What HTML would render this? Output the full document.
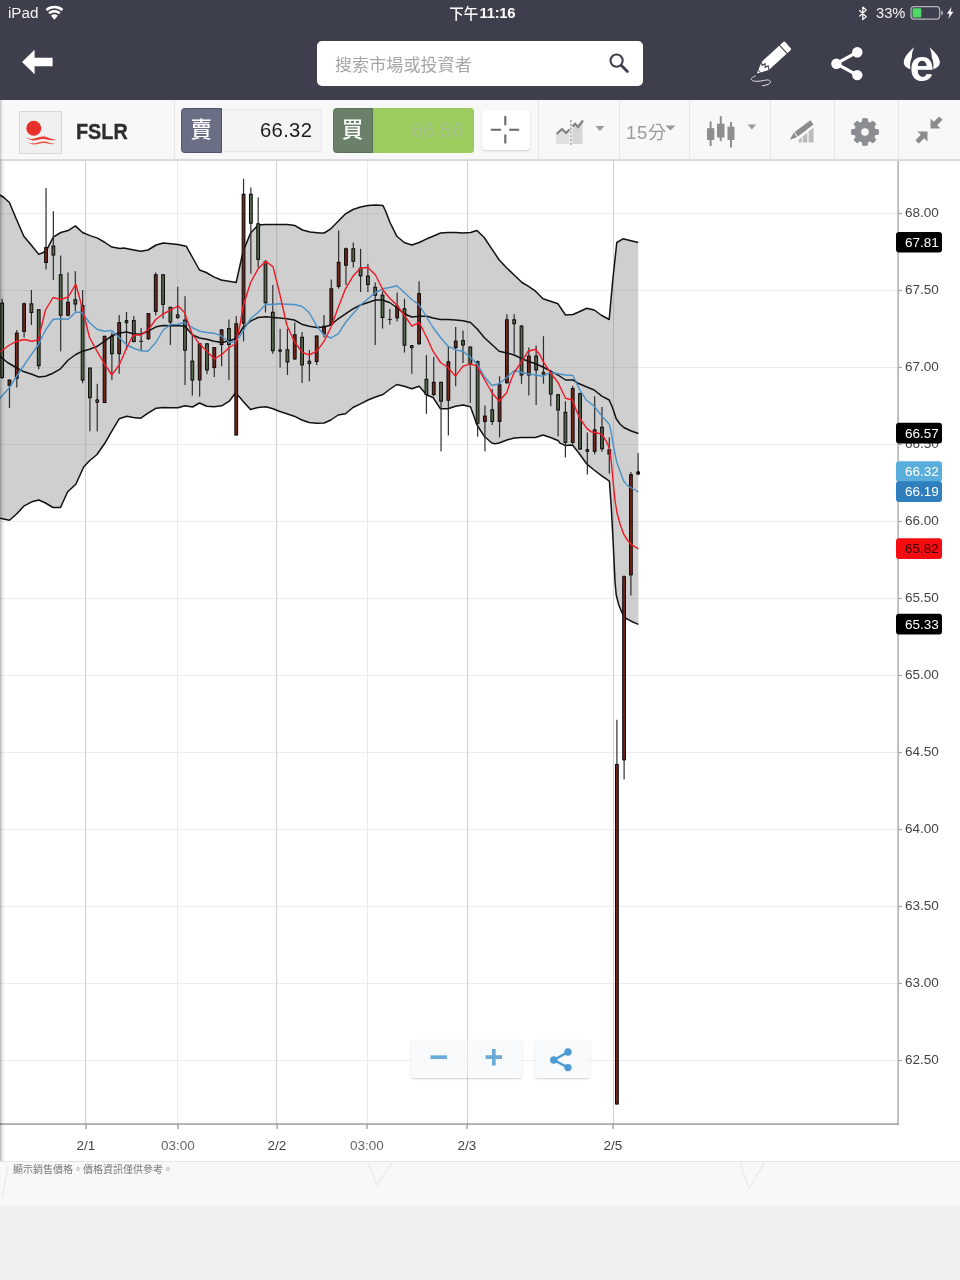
<!DOCTYPE html><html lang="zh-Hant"><head><meta charset="utf-8"><title>FSLR</title><style>
*{box-sizing:border-box;margin:0;padding:0}
html,body{width:960px;height:1280px;overflow:hidden;background:#f0f0f0;font-family:"Liberation Sans","Noto Sans CJK TC",sans-serif;}
#root{position:relative;width:960px;height:1280px;overflow:hidden;background:#f0f0f0}
.abs{position:absolute}
#hdr{left:0;top:0;width:960px;height:100px;background:#3d3f4c}
.st{color:#fff;font-size:16px;line-height:20px;top:3px;white-space:nowrap}
#search{left:317px;top:41px;width:326px;height:44.5px;background:#fff;border-radius:5px}
#search span{position:absolute;left:18px;top:11.7px;font-size:17px;line-height:26px;color:#a6a6a6;white-space:nowrap;letter-spacing:0.1px}
#tb{left:0;top:100px;width:960px;height:60px;background:#f8f8f8;border-bottom:1px solid #dcdcdc}
.dv{position:absolute;top:0;width:1px;height:60px;background:#e6e6e6}
#logo{left:19px;top:110.5px;width:43px;height:43.5px;background:#f0f0f0;border:1px solid #d9d9d9}
#sym{left:76px;top:118.2px;-webkit-text-stroke:0.35px #2e2e2e;font-size:22px;line-height:28px;font-weight:bold;color:#2e2e2e;font-family:"Liberation Sans",sans-serif;transform:scaleX(0.9);transform-origin:0 0}
.lab{color:#fff;font-size:21.5px;line-height:43px;text-align:center;font-weight:500}
.val{height:44px;line-height:44px;font-size:20.3px;text-align:right;letter-spacing:0.3px;white-space:nowrap}
#chart{left:0;top:160px;width:960px;height:1001px;background:#fff}
#foot{left:0;top:1161px;width:960px;height:44px;background:#f8f8f8;border-top:1px solid #e6e6e6}
#foot span{position:absolute;left:13px;top:1px;font-size:10px;line-height:14px;color:#7a7a7a;white-space:nowrap}
.zb{position:absolute;height:37.5px;background:rgba(248,249,250,0.88);border-radius:3px;box-shadow:0 1px 2px rgba(0,0,0,0.18)}
</style></head><body><div id="root"><div id="hdr" class="abs"><svg class="abs" style="left:0;top:0" width="960" height="28" viewBox="0 0 960 28" font-family="Liberation Sans, Noto Sans CJK TC, sans-serif" fill="#fff"><text x="8" y="18.4" font-size="15.2" fill="#f2f2f6">iPad</text><g fill="none" stroke="#fff" stroke-width="2.5"><path d="M46.36 10.02 A12.5 12.5 0 0 1 62.44 10.02"/><path d="M49.06 13.24 A8.3 8.3 0 0 1 59.74 13.24"/></g><path d="M54.4 19.7 L51.0 15.7 A5.2 5.2 0 0 1 57.8 15.7 Z"/><text x="449.2" y="19" font-size="14.5" font-weight="500">下午</text><text x="479.6" y="18.1" font-size="14.8" font-weight="bold" letter-spacing="-0.3">11:16</text><path d="M859.3 10.2 L866.2 16.6 L862.8 19.6 L862.8 7 L866.2 10 L859.3 16.4" fill="none" stroke="#fff" stroke-width="1.25" stroke-linejoin="round"/><text x="876" y="17.6" font-size="14.7" fill="#f4f4f8">33%</text><rect x="911" y="6.6" width="28.6" height="12.6" rx="3" fill="none" stroke="#fff" stroke-opacity="0.62" stroke-width="1.2"/><rect x="912.6" y="8.2" width="8.7" height="9.4" rx="1" fill="#4cd964"/><path d="M941.2 10.4 a2.6 2.6 0 0 1 0 5z" fill-opacity="0.6"/><path d="M951.6 6.9 L946.9 13.7 L949.6 13.7 L948.3 18.8 L953.5 11.8 L950.6 11.8 Z"/></svg><svg class="abs" style="left:20px;top:48px" width="34" height="28" viewBox="0 0 34 28"><path d="M2 14 L14.6 1.7 L14.6 9.8 L32.6 9.8 L32.6 18.2 L14.6 18.2 L14.6 26.3 Z" fill="#fff"/></svg><div id="search" class="abs"><span>搜索市場或投資者</span><svg class="abs" style="left:290.5px;top:11px" width="22" height="22" viewBox="0 0 22 22"><circle cx="8.6" cy="8.6" r="6.1" fill="none" stroke="#3d3f4c" stroke-width="2.1"/><path d="M13.2 13.2 L19.4 19.4" stroke="#3d3f4c" stroke-width="2.8" stroke-linecap="round"/></svg></div><svg class="abs" style="left:0;top:0" width="960" height="100" viewBox="0 0 960 100"><g transform="translate(757 73.5) rotate(-42.5)" fill="#fff"><path d="M0 0 L2.8 -1.4 L2.8 1.4 Z"/><path d="M3.6 -1.8 L11 -5.5 L35.1 -5.5 L35.1 5.5 L11 5.5 L3.6 1.8 Z"/><path d="M36.2 -5.5 L40.6 -5.5 Q42 -5.5 42 -4.1 L42 4.1 Q42 5.5 40.6 5.5 L36.2 5.5 Z"/><path d="M10.8 -5.6 L9.2 -2.6 L12.6 -1.8 L10.2 1 L13.4 1.9 L11.2 5.6" fill="none" stroke="#3d3f4c" stroke-width="1.1"/></g><path d="M755.4 76 C752.5 77 750.8 78.6 751.4 79.6 C752.2 81.3 756 81.6 760.75 81 C764 80.5 768.5 79 770.2 81 C771.5 83 768 85.3 762.6 85.7" fill="none" stroke="#e4e4e8" stroke-width="1" stroke-linecap="round"/><path d="M857.3 52.2 L836.2 63.7 L857.3 75.1" fill="none" stroke="#fff" stroke-width="3.2" stroke-linejoin="round"/><circle cx="857.3" cy="52.2" r="5.2" fill="#fff"/><circle cx="836.4" cy="63.7" r="5.2" fill="#fff"/><circle cx="857.3" cy="75.1" r="5.2" fill="#fff"/><path d="M914.1 47.2 C910 51 904.5 56 903.8 61.5 C903.4 65.5 906.5 68 910.3 69.2 C909.8 65 910.2 60.5 911.8 57.5 C911.6 54 912.8 50.5 914.1 47.2 Z" fill="#fff"/><path d="M914.1 47.2 C910 51 904.5 56 903.8 61.5 C903.4 65.5 906.5 68 910.3 69.2 C909.8 65 910.2 60.5 911.8 57.5 C911.6 54 912.8 50.5 914.1 47.2 Z" fill="#fff" transform="translate(1843.6 0) scale(-1 1)"/><text x="921.9" y="80.8" text-anchor="middle" font-family="Liberation Sans, sans-serif" font-weight="bold" font-size="43.5" fill="#fff">e</text></svg></div><div id="tb" class="abs"><div class="dv" style="left:174px"></div><div class="dv" style="left:538px"></div><div class="dv" style="left:619px"></div><div class="dv" style="left:689px"></div><div class="dv" style="left:770px"></div><div class="dv" style="left:834px"></div><div class="dv" style="left:898px"></div></div><div id="logo" class="abs"><svg width="41" height="41" viewBox="0 0 41 41"><circle cx="13.8" cy="16.3" r="7.5" fill="#e8302a"/><path d="M5.4 24.6 C11 29.6 17 25 22.5 24.6 C28 24.2 31 28 36.4 27.4 C31 29.6 27.5 26.8 22.8 27 C17.5 27.2 11.5 31.2 5.4 24.6 Z" fill="#e63c34"/><path d="M6.8 29.6 C12.5 33.6 18 29.6 23.2 29.4 C28.2 29.2 31 32 36 31.6 C31 33.2 27.8 31 23.3 31.1 C18.2 31.3 12.8 34.8 6.8 29.6 Z" fill="#e85048"/></svg></div><div id="sym" class="abs">FSLR</div><div class="abs" style="left:221px;top:108.5px;width:101px;height:43px;background:#f4f4f4;border:1px solid #e7e7e7;border-left:none;border-radius:0 3px 3px 0"></div><div class="abs lab" style="left:181px;top:108px;width:40.5px;height:44.5px;background:#6b6f86;border:1px solid #50546a;border-radius:3.5px 0 0 3.5px">賣</div><div class="abs val" style="left:240px;top:108px;width:72.3px;color:#1e1e1e">66.32</div><div class="abs" style="left:372px;top:108px;width:101.5px;height:44.5px;background:#9ccb5e;border-radius:0 3.5px 3.5px 0"></div><div class="abs lab" style="left:332.5px;top:108px;width:40px;height:44.5px;background:#6b8068;border:1px solid #5b7058;border-radius:3.5px 0 0 3.5px">買</div><div class="abs val" style="left:391px;top:108px;width:72.5px;color:#a6c28d">66.56</div><div class="abs" style="left:482px;top:110px;width:48px;height:40px;background:#fff;border-radius:4px;box-shadow:0 1px 2px rgba(0,0,0,0.18)"><svg width="48" height="40" viewBox="0 0 48 40"><path d="M23.3 6 V15.3 M23.3 24.4 V33.6 M8.8 19.8 H19 M27.2 19.8 H37.2" stroke="#686868" stroke-width="2.1" fill="none"/></svg></div><svg class="abs" style="left:552px;top:116px" width="60" height="32" viewBox="0 0 60 32"><path d="M4 28 L4 19 L10 13.5 L14 17.5 L17.4 14 L17.4 28 Z" fill="#e0e0e0"/><path d="M20.4 28 L20.4 12 L23 9 L26 12 L30.5 6 L30.5 28 Z" fill="#d6d6d6"/><path d="M4.5 18 L10 13 L14 17 L17.5 13.5" fill="none" stroke="#808080" stroke-width="2.2"/><path d="M20.5 10.5 L23.2 7.8 L26 11 L31 4.5" fill="none" stroke="#808080" stroke-width="2.2"/><path d="M18.9 4 V29" stroke="#8a8a8a" stroke-width="1.2" stroke-dasharray="2.2 1.6"/><path d="M43.4 10 L52.4 10 L47.9 15 Z" fill="#9a9a9a"/></svg><div class="abs" style="left:626px;top:118.5px;font-size:18.5px;line-height:28px;color:#9a9a9a;white-space:nowrap;letter-spacing:0.6px">15分</div><svg class="abs" style="left:665px;top:123.5px" width="12" height="8" viewBox="0 0 12 8"><path d="M0.5 1.5 L10.5 1.5 L5.5 6.5 Z" fill="#9a9a9a"/></svg><svg class="abs" style="left:704px;top:113px" width="56" height="38" viewBox="0 0 56 38"><g fill="#8e8e8e"><rect x="3" y="15.2" width="7.3" height="11.8"/><rect x="5.6" y="8.5" width="2" height="24.5"/><rect x="13" y="10.7" width="7.5" height="13.8"/><rect x="15.75" y="3.2" width="2" height="25"/><rect x="23.5" y="13.7" width="7" height="13.3"/><rect x="26" y="9" width="2" height="25.5"/><path d="M43.6 11.4 L52.2 11.4 L47.9 16.4 Z" fill="#9a9a9a"/></g></svg><svg class="abs" style="left:780px;top:110px" width="44" height="40" viewBox="780 110 44 40"><g fill="#bcbcbc"><path d="M798.7 139.4 L801.8 137.2 L801.8 142.4 L798.7 142.4 Z"/><path d="M802.8 136.3 L807.3 132.8 L807.3 142.4 L802.8 142.4 Z"/><path d="M808.6 131.6 L813.6 127.4 L813.6 142.4 L808.6 142.4 Z"/></g><g fill="#8c8c8c"><path d="M794.6 131.9 L810.4 120.3 L813.6 124.6 L797.9 136.6 Z"/><path d="M793.8 132.6 L797 137.2 L789.8 139.8 Z"/></g></svg><svg class="abs" style="left:849px;top:115.6px" width="32" height="32" viewBox="0 0 32 32"><path d="M13.36 6.04 L13.78 2.68 L18.22 2.68 L18.64 6.04 L21.17 7.09 L23.85 5.02 L26.98 8.15 L24.91 10.83 L25.96 13.36 L29.32 13.78 L29.32 18.22 L25.96 18.64 L24.91 21.17 L26.98 23.85 L23.85 26.98 L21.17 24.91 L18.64 25.96 L18.22 29.32 L13.78 29.32 L13.36 25.96 L10.83 24.91 L8.15 26.98 L5.02 23.85 L7.09 21.17 L6.04 18.64 L2.68 18.22 L2.68 13.78 L6.04 13.36 L7.09 10.83 L5.02 8.15 L8.15 5.02 L10.83 7.09 Z M16 11.7 a4.3 4.3 0 1 0 0.001 0 Z" fill="#8b8d91" fill-rule="evenodd" stroke="#8b8d91" stroke-width="1" stroke-linejoin="round"/></svg><svg class="abs" style="left:912.6px;top:114.2px" width="32" height="32" viewBox="0 0 32 32"><g fill="#8c8c8c"><path d="M17.5 14.5 L17.5 4.5 L20.8 7.8 L26.2 2.4 L29.6 5.8 L24.2 11.2 L27.5 14.5 Z"/><path d="M14.5 17.5 L14.5 27.5 L11.2 24.2 L5.8 29.6 L2.4 26.2 L7.8 20.8 L4.5 17.5 Z"/></g></svg><div id="chart" class="abs"><svg class="abs" style="left:0;top:0" width="960" height="1001" viewBox="0 160 960 1001" font-family="Liberation Sans, sans-serif"><rect x="0" y="160" width="960" height="1" fill="#d8d8d8"/><rect x="0" y="1060" width="898" height="1" fill="#ededed"/><rect x="898" y="1059.9" width="4" height="1.2" fill="#aaa"/><text x="905" y="1064.0" font-size="13.5" fill="#444">62.50</text><rect x="0" y="983" width="898" height="1" fill="#ededed"/><rect x="898" y="982.9" width="4" height="1.2" fill="#aaa"/><text x="905" y="987.0" font-size="13.5" fill="#444">63.00</text><rect x="0" y="906" width="898" height="1" fill="#ededed"/><rect x="898" y="905.9" width="4" height="1.2" fill="#aaa"/><text x="905" y="910.0" font-size="13.5" fill="#444">63.50</text><rect x="0" y="829" width="898" height="1" fill="#ededed"/><rect x="898" y="828.9" width="4" height="1.2" fill="#aaa"/><text x="905" y="833.0" font-size="13.5" fill="#444">64.00</text><rect x="0" y="752" width="898" height="1" fill="#ededed"/><rect x="898" y="751.9" width="4" height="1.2" fill="#aaa"/><text x="905" y="756.0" font-size="13.5" fill="#444">64.50</text><rect x="0" y="675" width="898" height="1" fill="#ededed"/><rect x="898" y="674.9" width="4" height="1.2" fill="#aaa"/><text x="905" y="679.0" font-size="13.5" fill="#444">65.00</text><rect x="0" y="598" width="898" height="1" fill="#ededed"/><rect x="898" y="597.9" width="4" height="1.2" fill="#aaa"/><text x="905" y="602.0" font-size="13.5" fill="#444">65.50</text><rect x="0" y="521" width="898" height="1" fill="#ededed"/><rect x="898" y="520.9" width="4" height="1.2" fill="#aaa"/><text x="905" y="525.0" font-size="13.5" fill="#444">66.00</text><rect x="0" y="444" width="898" height="1" fill="#ededed"/><rect x="898" y="443.9" width="4" height="1.2" fill="#aaa"/><text x="905" y="448.0" font-size="13.5" fill="#444">66.50</text><rect x="0" y="367" width="898" height="1" fill="#ededed"/><rect x="898" y="366.9" width="4" height="1.2" fill="#aaa"/><text x="905" y="371.0" font-size="13.5" fill="#444">67.00</text><rect x="0" y="290" width="898" height="1" fill="#ededed"/><rect x="898" y="289.9" width="4" height="1.2" fill="#aaa"/><text x="905" y="294.0" font-size="13.5" fill="#444">67.50</text><rect x="0" y="213" width="898" height="1" fill="#ededed"/><rect x="898" y="212.9" width="4" height="1.2" fill="#aaa"/><text x="905" y="217.0" font-size="13.5" fill="#444">68.00</text><rect x="85.1" y="161" width="1" height="963" fill="#cfcfcf"/><rect x="177.1" y="161" width="1" height="963" fill="#e9e9e9"/><rect x="276.1" y="161" width="1" height="963" fill="#cfcfcf"/><rect x="367.0" y="161" width="1" height="963" fill="#e9e9e9"/><rect x="467.0" y="161" width="1" height="963" fill="#cfcfcf"/><rect x="613.0" y="161" width="1" height="963" fill="#cfcfcf"/><polygon points="0.0,195.0 3.8,197.5 9.4,202.5 16.2,218.8 23.8,236.2 31.2,245.0 38.8,254.4 46.0,251.2 53.5,236.9 60.9,232.5 68.1,230.6 75.4,225.9 82.5,232.5 90.0,235.6 97.5,238.1 105.0,242.5 111.9,247.1 120.0,248.4 123.8,248.0 130.0,249.2 140.8,251.2 148.0,250.0 156.2,245.0 163.2,243.0 170.8,243.8 178.0,244.5 186.2,246.2 192.5,257.5 199.5,270.0 206.2,272.5 213.8,276.9 221.2,280.0 228.8,281.2 236.2,282.5 243.1,251.2 250.6,233.1 258.1,225.0 265.9,224.4 273.1,224.6 280.0,224.6 287.5,224.4 295.0,225.6 302.5,230.0 310.0,231.9 320.0,233.1 324.2,233.0 330.8,228.8 338.2,221.2 345.5,213.8 353.0,209.5 360.5,207.0 368.0,205.5 375.5,205.0 383.0,205.5 386.2,212.5 390.0,222.5 396.8,236.2 404.2,242.5 411.8,245.0 419.2,242.5 426.8,238.8 433.0,236.2 440.5,233.0 448.0,232.5 455.5,232.5 463.0,233.0 470.5,232.5 477.0,230.5 484.2,237.5 491.8,248.8 499.2,260.0 506.8,268.0 514.2,275.0 522.0,282.5 528.2,286.2 535.5,291.2 543.0,298.8 550.5,301.2 558.0,303.8 565.5,315.0 573.0,314.5 579.2,311.8 586.8,308.2 594.2,310.0 601.8,315.5 609.2,319.5 612.5,282.5 616.8,242.5 623.0,238.8 630.0,240.5 638.2,242.5 638.4,624.4 631.2,621.2 624.4,617.5 621.9,612.5 618.8,605.0 616.2,595.0 615.0,581.2 613.1,541.2 611.2,506.2 609.4,481.2 602.1,476.2 594.1,470.0 586.6,463.8 579.4,453.8 572.5,445.0 565.6,445.6 560.0,443.1 558.0,440.5 550.5,437.5 543.0,435.0 535.5,437.5 528.2,437.5 522.0,437.5 514.2,438.0 506.8,440.0 499.2,443.0 495.0,443.8 491.8,443.0 484.2,436.2 477.0,425.0 470.5,406.8 463.0,405.0 455.5,406.2 448.0,408.8 440.5,408.8 433.0,397.5 426.8,395.0 419.2,386.2 411.8,388.8 404.2,386.2 396.8,384.5 389.5,389.5 383.0,394.5 375.5,397.0 368.0,400.0 360.5,403.8 353.0,407.5 345.5,413.8 338.2,415.0 330.8,420.0 324.2,423.0 316.8,423.2 309.2,422.5 301.8,420.0 294.2,416.2 286.8,413.8 279.2,411.2 273.0,408.8 265.8,406.8 258.0,407.5 250.5,409.5 243.0,401.2 240.0,397.5 235.5,393.0 229.2,401.2 221.8,405.8 214.2,406.8 206.8,406.2 199.5,403.0 192.5,407.0 185.0,405.8 178.0,407.8 170.8,407.8 163.2,407.5 156.2,408.2 148.0,413.2 140.8,418.2 133.2,417.5 126.8,416.2 119.2,418.8 111.8,431.2 104.5,443.8 97.0,454.5 89.5,460.8 83.8,466.8 75.8,484.2 67.5,492.0 60.5,507.5 53.0,507.5 45.5,503.0 38.8,500.0 31.8,501.8 24.2,505.8 16.8,513.8 9.5,520.2 0.0,518.2" fill="#cfcfcf"/><clipPath id="bb"><polygon points="0.0,195.0 3.8,197.5 9.4,202.5 16.2,218.8 23.8,236.2 31.2,245.0 38.8,254.4 46.0,251.2 53.5,236.9 60.9,232.5 68.1,230.6 75.4,225.9 82.5,232.5 90.0,235.6 97.5,238.1 105.0,242.5 111.9,247.1 120.0,248.4 123.8,248.0 130.0,249.2 140.8,251.2 148.0,250.0 156.2,245.0 163.2,243.0 170.8,243.8 178.0,244.5 186.2,246.2 192.5,257.5 199.5,270.0 206.2,272.5 213.8,276.9 221.2,280.0 228.8,281.2 236.2,282.5 243.1,251.2 250.6,233.1 258.1,225.0 265.9,224.4 273.1,224.6 280.0,224.6 287.5,224.4 295.0,225.6 302.5,230.0 310.0,231.9 320.0,233.1 324.2,233.0 330.8,228.8 338.2,221.2 345.5,213.8 353.0,209.5 360.5,207.0 368.0,205.5 375.5,205.0 383.0,205.5 386.2,212.5 390.0,222.5 396.8,236.2 404.2,242.5 411.8,245.0 419.2,242.5 426.8,238.8 433.0,236.2 440.5,233.0 448.0,232.5 455.5,232.5 463.0,233.0 470.5,232.5 477.0,230.5 484.2,237.5 491.8,248.8 499.2,260.0 506.8,268.0 514.2,275.0 522.0,282.5 528.2,286.2 535.5,291.2 543.0,298.8 550.5,301.2 558.0,303.8 565.5,315.0 573.0,314.5 579.2,311.8 586.8,308.2 594.2,310.0 601.8,315.5 609.2,319.5 612.5,282.5 616.8,242.5 623.0,238.8 630.0,240.5 638.2,242.5 638.4,624.4 631.2,621.2 624.4,617.5 621.9,612.5 618.8,605.0 616.2,595.0 615.0,581.2 613.1,541.2 611.2,506.2 609.4,481.2 602.1,476.2 594.1,470.0 586.6,463.8 579.4,453.8 572.5,445.0 565.6,445.6 560.0,443.1 558.0,440.5 550.5,437.5 543.0,435.0 535.5,437.5 528.2,437.5 522.0,437.5 514.2,438.0 506.8,440.0 499.2,443.0 495.0,443.8 491.8,443.0 484.2,436.2 477.0,425.0 470.5,406.8 463.0,405.0 455.5,406.2 448.0,408.8 440.5,408.8 433.0,397.5 426.8,395.0 419.2,386.2 411.8,388.8 404.2,386.2 396.8,384.5 389.5,389.5 383.0,394.5 375.5,397.0 368.0,400.0 360.5,403.8 353.0,407.5 345.5,413.8 338.2,415.0 330.8,420.0 324.2,423.0 316.8,423.2 309.2,422.5 301.8,420.0 294.2,416.2 286.8,413.8 279.2,411.2 273.0,408.8 265.8,406.8 258.0,407.5 250.5,409.5 243.0,401.2 240.0,397.5 235.5,393.0 229.2,401.2 221.8,405.8 214.2,406.8 206.8,406.2 199.5,403.0 192.5,407.0 185.0,405.8 178.0,407.8 170.8,407.8 163.2,407.5 156.2,408.2 148.0,413.2 140.8,418.2 133.2,417.5 126.8,416.2 119.2,418.8 111.8,431.2 104.5,443.8 97.0,454.5 89.5,460.8 83.8,466.8 75.8,484.2 67.5,492.0 60.5,507.5 53.0,507.5 45.5,503.0 38.8,500.0 31.8,501.8 24.2,505.8 16.8,513.8 9.5,520.2 0.0,518.2"/></clipPath><g clip-path="url(#bb)"><rect x="0" y="675" width="700" height="1" fill="#c3c3c3"/><rect x="0" y="598" width="700" height="1" fill="#c3c3c3"/><rect x="0" y="521" width="700" height="1" fill="#c3c3c3"/><rect x="0" y="444" width="700" height="1" fill="#c3c3c3"/><rect x="0" y="367" width="700" height="1" fill="#c3c3c3"/><rect x="0" y="290" width="700" height="1" fill="#c3c3c3"/><rect x="0" y="213" width="700" height="1" fill="#c3c3c3"/><rect x="85.1" y="161" width="1" height="963" fill="#b4b4b4"/><rect x="177.1" y="161" width="1" height="963" fill="#c3c3c3"/><rect x="276.1" y="161" width="1" height="963" fill="#b4b4b4"/><rect x="367.0" y="161" width="1" height="963" fill="#c3c3c3"/><rect x="467.0" y="161" width="1" height="963" fill="#b4b4b4"/><rect x="613.0" y="161" width="1" height="963" fill="#b4b4b4"/></g><polyline points="0.0,195.0 3.8,197.5 9.4,202.5 16.2,218.8 23.8,236.2 31.2,245.0 38.8,254.4 46.0,251.2 53.5,236.9 60.9,232.5 68.1,230.6 75.4,225.9 82.5,232.5 90.0,235.6 97.5,238.1 105.0,242.5 111.9,247.1 120.0,248.4 123.8,248.0 130.0,249.2 140.8,251.2 148.0,250.0 156.2,245.0 163.2,243.0 170.8,243.8 178.0,244.5 186.2,246.2 192.5,257.5 199.5,270.0 206.2,272.5 213.8,276.9 221.2,280.0 228.8,281.2 236.2,282.5 243.1,251.2 250.6,233.1 258.1,225.0 265.9,224.4 273.1,224.6 280.0,224.6 287.5,224.4 295.0,225.6 302.5,230.0 310.0,231.9 320.0,233.1 324.2,233.0 330.8,228.8 338.2,221.2 345.5,213.8 353.0,209.5 360.5,207.0 368.0,205.5 375.5,205.0 383.0,205.5 386.2,212.5 390.0,222.5 396.8,236.2 404.2,242.5 411.8,245.0 419.2,242.5 426.8,238.8 433.0,236.2 440.5,233.0 448.0,232.5 455.5,232.5 463.0,233.0 470.5,232.5 477.0,230.5 484.2,237.5 491.8,248.8 499.2,260.0 506.8,268.0 514.2,275.0 522.0,282.5 528.2,286.2 535.5,291.2 543.0,298.8 550.5,301.2 558.0,303.8 565.5,315.0 573.0,314.5 579.2,311.8 586.8,308.2 594.2,310.0 601.8,315.5 609.2,319.5 612.5,282.5 616.8,242.5 623.0,238.8 630.0,240.5 638.2,242.5" fill="none" stroke="#111" stroke-width="1.5" stroke-linejoin="round"/><polyline points="0.0,518.2 9.5,520.2 16.8,513.8 24.2,505.8 31.8,501.8 38.8,500.0 45.5,503.0 53.0,507.5 60.5,507.5 67.5,492.0 75.8,484.2 83.8,466.8 89.5,460.8 97.0,454.5 104.5,443.8 111.8,431.2 119.2,418.8 126.8,416.2 133.2,417.5 140.8,418.2 148.0,413.2 156.2,408.2 163.2,407.5 170.8,407.8 178.0,407.8 185.0,405.8 192.5,407.0 199.5,403.0 206.8,406.2 214.2,406.8 221.8,405.8 229.2,401.2 235.5,393.0 240.0,397.5 243.0,401.2 250.5,409.5 258.0,407.5 265.8,406.8 273.0,408.8 279.2,411.2 286.8,413.8 294.2,416.2 301.8,420.0 309.2,422.5 316.8,423.2 324.2,423.0 330.8,420.0 338.2,415.0 345.5,413.8 353.0,407.5 360.5,403.8 368.0,400.0 375.5,397.0 383.0,394.5 389.5,389.5 396.8,384.5 404.2,386.2 411.8,388.8 419.2,386.2 426.8,395.0 433.0,397.5 440.5,408.8 448.0,408.8 455.5,406.2 463.0,405.0 470.5,406.8 477.0,425.0 484.2,436.2 491.8,443.0 495.0,443.8 499.2,443.0 506.8,440.0 514.2,438.0 522.0,437.5 528.2,437.5 535.5,437.5 543.0,435.0 550.5,437.5 558.0,440.5 560.0,443.1 565.6,445.6 572.5,445.0 579.4,453.8 586.6,463.8 594.1,470.0 602.1,476.2 609.4,481.2 611.2,506.2 613.1,541.2 615.0,581.2 616.2,595.0 618.8,605.0 621.9,612.5 624.4,617.5 631.2,621.2 638.4,624.4" fill="none" stroke="#111" stroke-width="1.5" stroke-linejoin="round"/><rect x="1.55" y="298.8" width="1.2" height="80.0" fill="#2e2e2e"/><rect x="0.77" y="303.1" width="2.75" height="74.4" fill="#566a4e" stroke="#0e0a0a" stroke-width="1.05"/><rect x="8.87" y="379.5" width="1.2" height="28.5" fill="#2e2e2e"/><rect x="8.09" y="380.1" width="2.75" height="5.2" fill="#74281c" stroke="#0e0a0a" stroke-width="1.05"/><rect x="16.18" y="330.0" width="1.2" height="57.5" fill="#2e2e2e"/><rect x="15.41" y="333.1" width="2.75" height="45.1" fill="#74281c" stroke="#0e0a0a" stroke-width="1.05"/><rect x="23.49" y="302.5" width="1.2" height="35.0" fill="#2e2e2e"/><rect x="22.72" y="303.8" width="2.75" height="27.6" fill="#74281c" stroke="#0e0a0a" stroke-width="1.05"/><rect x="30.81" y="290.0" width="1.2" height="35.0" fill="#2e2e2e"/><rect x="30.04" y="303.8" width="2.75" height="8.7" fill="#566a4e" stroke="#0e0a0a" stroke-width="1.05"/><rect x="38.12" y="309.2" width="1.2" height="60.2" fill="#2e2e2e"/><rect x="37.35" y="309.8" width="2.75" height="55.9" fill="#566a4e" stroke="#0e0a0a" stroke-width="1.05"/><rect x="45.44" y="188.0" width="1.2" height="81.5" fill="#2e2e2e"/><rect x="44.66" y="247.6" width="2.75" height="14.9" fill="#74281c" stroke="#0e0a0a" stroke-width="1.05"/><rect x="52.76" y="211.2" width="1.2" height="68.8" fill="#2e2e2e"/><rect x="51.98" y="246.1" width="2.75" height="8.9" fill="#566a4e" stroke="#0e0a0a" stroke-width="1.05"/><rect x="60.07" y="255.5" width="1.2" height="95.8" fill="#2e2e2e"/><rect x="59.30" y="274.8" width="2.75" height="40.4" fill="#566a4e" stroke="#0e0a0a" stroke-width="1.05"/><rect x="67.39" y="272.5" width="1.2" height="43.8" fill="#2e2e2e"/><rect x="66.61" y="302.3" width="2.75" height="12.9" fill="#74281c" stroke="#0e0a0a" stroke-width="1.05"/><rect x="74.70" y="271.2" width="1.2" height="40.0" fill="#2e2e2e"/><rect x="73.93" y="299.8" width="2.75" height="4.2" fill="#566a4e" stroke="#0e0a0a" stroke-width="1.05"/><rect x="82.02" y="290.0" width="1.2" height="93.2" fill="#2e2e2e"/><rect x="81.24" y="305.6" width="2.75" height="74.4" fill="#566a4e" stroke="#0e0a0a" stroke-width="1.05"/><rect x="89.33" y="367.5" width="1.2" height="63.8" fill="#2e2e2e"/><rect x="88.56" y="368.1" width="2.75" height="29.6" fill="#566a4e" stroke="#0e0a0a" stroke-width="1.05"/><rect x="96.65" y="383.8" width="1.2" height="47.5" fill="#2e2e2e"/><rect x="95.87" y="399.8" width="2.75" height="2.6" fill="#5e6258" stroke="#0e0a0a" stroke-width="1.05" rx="0.8"/><rect x="103.96" y="335.8" width="1.2" height="67.2" fill="#2e2e2e"/><rect x="103.19" y="336.3" width="2.75" height="66.2" fill="#74281c" stroke="#0e0a0a" stroke-width="1.05"/><rect x="111.28" y="332.5" width="1.2" height="47.5" fill="#2e2e2e"/><rect x="110.50" y="336.3" width="2.75" height="17.4" fill="#566a4e" stroke="#0e0a0a" stroke-width="1.05"/><rect x="118.59" y="315.0" width="1.2" height="58.8" fill="#2e2e2e"/><rect x="117.82" y="322.6" width="2.75" height="31.1" fill="#74281c" stroke="#0e0a0a" stroke-width="1.05"/><rect x="125.91" y="312.0" width="1.2" height="38.0" fill="#2e2e2e"/><rect x="125.13" y="320.6" width="2.75" height="2.1" fill="#5e6258" stroke="#0e0a0a" stroke-width="1.05" rx="0.8"/><rect x="133.22" y="316.2" width="1.2" height="26.2" fill="#2e2e2e"/><rect x="132.45" y="320.6" width="2.75" height="20.9" fill="#566a4e" stroke="#0e0a0a" stroke-width="1.05"/><rect x="140.54" y="328.0" width="1.2" height="22.0" fill="#2e2e2e"/><rect x="139.14" y="340.8" width="4" height="1.1" fill="#222"/><rect x="147.85" y="313.0" width="1.2" height="27.0" fill="#2e2e2e"/><rect x="147.08" y="313.6" width="2.75" height="25.1" fill="#74281c" stroke="#0e0a0a" stroke-width="1.05"/><rect x="155.17" y="272.5" width="1.2" height="43.0" fill="#2e2e2e"/><rect x="154.39" y="274.8" width="2.75" height="36.6" fill="#74281c" stroke="#0e0a0a" stroke-width="1.05"/><rect x="162.48" y="274.2" width="1.2" height="44.5" fill="#2e2e2e"/><rect x="161.71" y="274.8" width="2.75" height="29.6" fill="#566a4e" stroke="#0e0a0a" stroke-width="1.05"/><rect x="169.80" y="306.8" width="1.2" height="38.2" fill="#2e2e2e"/><rect x="169.02" y="307.3" width="2.75" height="14.7" fill="#566a4e" stroke="#0e0a0a" stroke-width="1.05"/><rect x="177.11" y="286.8" width="1.2" height="32.0" fill="#2e2e2e"/><rect x="176.34" y="314.8" width="2.75" height="2.9" fill="#5e6258" stroke="#0e0a0a" stroke-width="1.05" rx="0.8"/><rect x="184.43" y="296.2" width="1.2" height="88.8" fill="#2e2e2e"/><rect x="183.65" y="320.1" width="2.75" height="30.1" fill="#566a4e" stroke="#0e0a0a" stroke-width="1.05"/><rect x="191.74" y="335.5" width="1.2" height="60.2" fill="#2e2e2e"/><rect x="190.97" y="361.1" width="2.75" height="18.9" fill="#566a4e" stroke="#0e0a0a" stroke-width="1.05"/><rect x="199.06" y="343.2" width="1.2" height="53.5" fill="#2e2e2e"/><rect x="198.28" y="343.8" width="2.75" height="36.1" fill="#74281c" stroke="#0e0a0a" stroke-width="1.05"/><rect x="206.37" y="343.2" width="1.2" height="31.0" fill="#2e2e2e"/><rect x="205.60" y="343.8" width="2.75" height="26.1" fill="#566a4e" stroke="#0e0a0a" stroke-width="1.05"/><rect x="213.69" y="347.0" width="1.2" height="30.0" fill="#2e2e2e"/><rect x="212.91" y="347.6" width="2.75" height="19.9" fill="#74281c" stroke="#0e0a0a" stroke-width="1.05"/><rect x="221.00" y="329.2" width="1.2" height="37.0" fill="#2e2e2e"/><rect x="220.23" y="329.8" width="2.75" height="14.7" fill="#74281c" stroke="#0e0a0a" stroke-width="1.05"/><rect x="228.32" y="319.5" width="1.2" height="60.5" fill="#2e2e2e"/><rect x="227.54" y="328.6" width="2.75" height="15.9" fill="#566a4e" stroke="#0e0a0a" stroke-width="1.05"/><rect x="235.63" y="316.2" width="1.2" height="119.2" fill="#2e2e2e"/><rect x="234.86" y="323.8" width="2.75" height="111.2" fill="#74281c" stroke="#0e0a0a" stroke-width="1.05"/><rect x="242.95" y="178.8" width="1.2" height="162.5" fill="#2e2e2e"/><rect x="242.17" y="194.3" width="2.75" height="128.9" fill="#74281c" stroke="#0e0a0a" stroke-width="1.05"/><rect x="250.26" y="187.5" width="1.2" height="86.2" fill="#2e2e2e"/><rect x="249.49" y="194.3" width="2.75" height="28.9" fill="#566a4e" stroke="#0e0a0a" stroke-width="1.05"/><rect x="257.57" y="197.5" width="1.2" height="70.0" fill="#2e2e2e"/><rect x="256.80" y="223.8" width="2.75" height="35.6" fill="#566a4e" stroke="#0e0a0a" stroke-width="1.05"/><rect x="264.89" y="260.0" width="1.2" height="52.5" fill="#2e2e2e"/><rect x="264.12" y="261.8" width="2.75" height="40.9" fill="#566a4e" stroke="#0e0a0a" stroke-width="1.05"/><rect x="272.20" y="285.0" width="1.2" height="68.8" fill="#2e2e2e"/><rect x="271.43" y="312.3" width="2.75" height="38.4" fill="#566a4e" stroke="#0e0a0a" stroke-width="1.05"/><rect x="279.52" y="328.8" width="1.2" height="38.8" fill="#2e2e2e"/><rect x="278.75" y="349.8" width="2.75" height="1.6" fill="#5e6258" stroke="#0e0a0a" stroke-width="1.05" rx="0.8"/><rect x="286.83" y="328.8" width="1.2" height="46.2" fill="#2e2e2e"/><rect x="286.06" y="349.8" width="2.75" height="12.2" fill="#566a4e" stroke="#0e0a0a" stroke-width="1.05"/><rect x="294.15" y="322.5" width="1.2" height="37.5" fill="#2e2e2e"/><rect x="293.38" y="334.8" width="2.75" height="24.1" fill="#74281c" stroke="#0e0a0a" stroke-width="1.05"/><rect x="301.46" y="332.0" width="1.2" height="51.0" fill="#2e2e2e"/><rect x="300.69" y="337.3" width="2.75" height="27.6" fill="#566a4e" stroke="#0e0a0a" stroke-width="1.05"/><rect x="308.78" y="350.0" width="1.2" height="31.2" fill="#2e2e2e"/><rect x="308.00" y="361.1" width="2.75" height="2.6" fill="#5e6258" stroke="#0e0a0a" stroke-width="1.05" rx="0.8"/><rect x="316.09" y="335.0" width="1.2" height="30.0" fill="#2e2e2e"/><rect x="315.32" y="336.1" width="2.75" height="25.4" fill="#74281c" stroke="#0e0a0a" stroke-width="1.05"/><rect x="323.41" y="315.0" width="1.2" height="22.5" fill="#2e2e2e"/><rect x="322.63" y="326.3" width="2.75" height="7.4" fill="#74281c" stroke="#0e0a0a" stroke-width="1.05"/><rect x="330.72" y="279.5" width="1.2" height="45.5" fill="#2e2e2e"/><rect x="329.95" y="288.8" width="2.75" height="35.6" fill="#74281c" stroke="#0e0a0a" stroke-width="1.05"/><rect x="338.04" y="230.5" width="1.2" height="58.2" fill="#2e2e2e"/><rect x="337.26" y="262.3" width="2.75" height="24.1" fill="#74281c" stroke="#0e0a0a" stroke-width="1.05"/><rect x="345.35" y="247.5" width="1.2" height="37.5" fill="#2e2e2e"/><rect x="344.58" y="248.8" width="2.75" height="16.4" fill="#74281c" stroke="#0e0a0a" stroke-width="1.05"/><rect x="352.67" y="242.5" width="1.2" height="25.0" fill="#2e2e2e"/><rect x="351.89" y="248.8" width="2.75" height="12.4" fill="#566a4e" stroke="#0e0a0a" stroke-width="1.05"/><rect x="359.98" y="248.8" width="1.2" height="43.2" fill="#2e2e2e"/><rect x="359.21" y="268.1" width="2.75" height="7.7" fill="#566a4e" stroke="#0e0a0a" stroke-width="1.05"/><rect x="367.30" y="263.8" width="1.2" height="28.2" fill="#2e2e2e"/><rect x="366.52" y="276.1" width="2.75" height="8.4" fill="#566a4e" stroke="#0e0a0a" stroke-width="1.05"/><rect x="374.61" y="282.5" width="1.2" height="62.5" fill="#2e2e2e"/><rect x="373.84" y="287.3" width="2.75" height="7.9" fill="#566a4e" stroke="#0e0a0a" stroke-width="1.05"/><rect x="381.93" y="291.2" width="1.2" height="37.5" fill="#2e2e2e"/><rect x="381.15" y="295.1" width="2.75" height="22.4" fill="#566a4e" stroke="#0e0a0a" stroke-width="1.05"/><rect x="389.24" y="308.8" width="1.2" height="15.8" fill="#2e2e2e"/><rect x="387.84" y="318.9" width="4" height="1.1" fill="#222"/><rect x="396.56" y="292.5" width="1.2" height="28.8" fill="#2e2e2e"/><rect x="395.79" y="306.1" width="2.75" height="11.7" fill="#74281c" stroke="#0e0a0a" stroke-width="1.05"/><rect x="403.88" y="298.8" width="1.2" height="53.8" fill="#2e2e2e"/><rect x="403.10" y="308.8" width="2.75" height="36.4" fill="#566a4e" stroke="#0e0a0a" stroke-width="1.05"/><rect x="411.19" y="345.0" width="1.2" height="28.8" fill="#2e2e2e"/><rect x="410.42" y="345.6" width="2.75" height="2.1" fill="#5e6258" stroke="#0e0a0a" stroke-width="1.05" rx="0.8"/><rect x="418.50" y="281.2" width="1.2" height="63.8" fill="#2e2e2e"/><rect x="417.73" y="293.6" width="2.75" height="50.1" fill="#74281c" stroke="#0e0a0a" stroke-width="1.05"/><rect x="425.82" y="355.0" width="1.2" height="58.8" fill="#2e2e2e"/><rect x="425.05" y="379.3" width="2.75" height="15.2" fill="#566a4e" stroke="#0e0a0a" stroke-width="1.05"/><rect x="433.13" y="356.8" width="1.2" height="39.5" fill="#2e2e2e"/><rect x="432.36" y="382.3" width="2.75" height="12.2" fill="#74281c" stroke="#0e0a0a" stroke-width="1.05"/><rect x="440.45" y="381.8" width="1.2" height="69.5" fill="#2e2e2e"/><rect x="439.68" y="382.3" width="2.75" height="18.9" fill="#566a4e" stroke="#0e0a0a" stroke-width="1.05"/><rect x="447.76" y="346.2" width="1.2" height="89.2" fill="#2e2e2e"/><rect x="446.99" y="361.8" width="2.75" height="38.4" fill="#74281c" stroke="#0e0a0a" stroke-width="1.05"/><rect x="455.08" y="327.0" width="1.2" height="59.2" fill="#2e2e2e"/><rect x="454.31" y="341.1" width="2.75" height="6.4" fill="#74281c" stroke="#0e0a0a" stroke-width="1.05"/><rect x="462.39" y="330.5" width="1.2" height="32.5" fill="#2e2e2e"/><rect x="461.62" y="340.6" width="2.75" height="4.4" fill="#566a4e" stroke="#0e0a0a" stroke-width="1.05"/><rect x="469.71" y="346.2" width="1.2" height="56.8" fill="#2e2e2e"/><rect x="468.94" y="347.1" width="2.75" height="16.9" fill="#566a4e" stroke="#0e0a0a" stroke-width="1.05"/><rect x="477.02" y="360.5" width="1.2" height="76.2" fill="#2e2e2e"/><rect x="476.25" y="361.8" width="2.75" height="61.4" fill="#566a4e" stroke="#0e0a0a" stroke-width="1.05"/><rect x="484.34" y="405.5" width="1.2" height="45.8" fill="#2e2e2e"/><rect x="483.56" y="416.1" width="2.75" height="5.4" fill="#74281c" stroke="#0e0a0a" stroke-width="1.05"/><rect x="491.65" y="388.8" width="1.2" height="36.2" fill="#2e2e2e"/><rect x="490.88" y="409.8" width="2.75" height="11.7" fill="#566a4e" stroke="#0e0a0a" stroke-width="1.05"/><rect x="498.97" y="376.2" width="1.2" height="61.2" fill="#2e2e2e"/><rect x="498.19" y="384.8" width="2.75" height="36.6" fill="#74281c" stroke="#0e0a0a" stroke-width="1.05"/><rect x="506.28" y="314.2" width="1.2" height="69.5" fill="#2e2e2e"/><rect x="505.51" y="319.8" width="2.75" height="62.9" fill="#74281c" stroke="#0e0a0a" stroke-width="1.05"/><rect x="513.60" y="314.2" width="1.2" height="39.5" fill="#2e2e2e"/><rect x="512.83" y="319.8" width="2.75" height="3.9" fill="#566a4e" stroke="#0e0a0a" stroke-width="1.05"/><rect x="520.91" y="325.0" width="1.2" height="58.8" fill="#2e2e2e"/><rect x="520.14" y="326.1" width="2.75" height="48.9" fill="#566a4e" stroke="#0e0a0a" stroke-width="1.05"/><rect x="528.23" y="347.5" width="1.2" height="48.0" fill="#2e2e2e"/><rect x="527.46" y="356.1" width="2.75" height="18.9" fill="#74281c" stroke="#0e0a0a" stroke-width="1.05"/><rect x="535.54" y="345.5" width="1.2" height="59.5" fill="#2e2e2e"/><rect x="534.77" y="356.1" width="2.75" height="13.9" fill="#566a4e" stroke="#0e0a0a" stroke-width="1.05"/><rect x="542.86" y="336.2" width="1.2" height="47.5" fill="#2e2e2e"/><rect x="542.09" y="372.3" width="2.75" height="1.9" fill="#5e6258" stroke="#0e0a0a" stroke-width="1.05" rx="0.8"/><rect x="550.17" y="370.0" width="1.2" height="36.2" fill="#2e2e2e"/><rect x="549.40" y="373.6" width="2.75" height="20.4" fill="#566a4e" stroke="#0e0a0a" stroke-width="1.05"/><rect x="557.49" y="393.8" width="1.2" height="42.5" fill="#2e2e2e"/><rect x="556.72" y="394.8" width="2.75" height="15.2" fill="#566a4e" stroke="#0e0a0a" stroke-width="1.05"/><rect x="564.80" y="401.2" width="1.2" height="56.2" fill="#2e2e2e"/><rect x="564.03" y="412.3" width="2.75" height="30.1" fill="#566a4e" stroke="#0e0a0a" stroke-width="1.05"/><rect x="572.12" y="385.8" width="1.2" height="58.0" fill="#2e2e2e"/><rect x="571.35" y="388.6" width="2.75" height="53.9" fill="#74281c" stroke="#0e0a0a" stroke-width="1.05"/><rect x="579.43" y="392.5" width="1.2" height="57.5" fill="#2e2e2e"/><rect x="578.66" y="393.6" width="2.75" height="55.4" fill="#566a4e" stroke="#0e0a0a" stroke-width="1.05"/><rect x="586.75" y="432.5" width="1.2" height="42.0" fill="#2e2e2e"/><rect x="585.98" y="449.6" width="2.75" height="1.9" fill="#5e6258" stroke="#0e0a0a" stroke-width="1.05" rx="0.8"/><rect x="594.06" y="396.2" width="1.2" height="58.2" fill="#2e2e2e"/><rect x="593.29" y="429.8" width="2.75" height="21.4" fill="#74281c" stroke="#0e0a0a" stroke-width="1.05"/><rect x="601.38" y="407.0" width="1.2" height="44.8" fill="#2e2e2e"/><rect x="600.61" y="427.3" width="2.75" height="21.4" fill="#566a4e" stroke="#0e0a0a" stroke-width="1.05"/><rect x="608.69" y="437.5" width="1.2" height="36.2" fill="#2e2e2e"/><rect x="607.92" y="449.8" width="2.75" height="4.2" fill="#74281c" stroke="#0e0a0a" stroke-width="1.05"/><rect x="616.30" y="719.8" width="1.2" height="384.8" fill="#2e2e2e"/><rect x="615.52" y="764.5" width="2.75" height="339.5" fill="#74281c" stroke="#0e0a0a" stroke-width="1.05"/><rect x="623.50" y="575.4" width="1.2" height="204.0" fill="#2e2e2e"/><rect x="622.73" y="576.8" width="2.75" height="183.0" fill="#74281c" stroke="#0e0a0a" stroke-width="1.05"/><rect x="630.30" y="471.9" width="1.2" height="123.7" fill="#2e2e2e"/><rect x="629.52" y="474.7" width="2.75" height="100.2" fill="#74281c" stroke="#0e0a0a" stroke-width="1.05"/><rect x="637.50" y="453.1" width="1.2" height="20.9" fill="#2e2e2e"/><circle cx="638.10" cy="473.0" r="2.1" fill="#1a1212"/><polyline points="0.0,356.2 7.5,362.5 16.8,368.0 24.2,371.8 31.8,374.2 38.8,377.0 45.5,376.2 53.0,373.2 60.5,368.8 68.2,360.0 75.8,354.5 82.5,351.2 89.5,349.2 97.5,346.2 104.5,341.2 111.8,335.8 119.2,333.0 126.8,332.0 133.2,333.8 140.8,334.2 148.0,331.2 156.2,326.8 163.2,325.5 170.8,325.8 178.0,325.5 185.0,326.2 192.5,335.0 199.5,338.0 206.8,339.2 214.2,341.2 221.8,342.5 229.2,340.8 235.5,338.8 240.0,332.5 243.0,327.5 250.5,321.2 258.0,317.5 265.8,316.8 273.0,317.5 279.2,318.0 286.8,318.8 294.2,320.0 301.8,324.2 309.2,326.2 316.8,327.5 324.2,327.0 330.8,325.0 338.2,318.8 345.5,313.8 353.0,308.8 360.5,305.0 368.0,302.5 375.5,300.0 382.0,300.0 389.5,302.5 396.8,307.5 404.2,313.8 411.8,317.0 419.2,316.2 426.8,316.2 433.0,318.0 440.5,319.5 448.0,319.5 455.5,320.0 463.0,320.8 470.5,322.5 477.0,328.8 484.2,337.5 491.8,344.5 499.2,351.2 506.8,353.0 514.2,355.0 522.0,358.8 528.2,361.2 535.5,363.8 543.0,367.0 550.5,371.2 558.0,375.0 565.5,380.0 573.0,380.0 579.2,383.8 586.8,387.0 594.2,390.0 601.8,396.2 609.2,400.0 612.5,407.5 616.2,418.8 620.0,424.0 623.8,427.5 631.2,431.0 638.4,433.5" fill="none" stroke="#111" stroke-width="1.5" stroke-linejoin="round"/><polyline points="0.0,398.2 9.5,387.5 16.8,376.2 24.2,365.0 31.8,353.8 38.2,345.0 45.5,330.0 53.0,319.5 60.5,318.8 68.2,319.2 75.8,312.0 81.8,312.5 89.5,322.5 97.0,329.2 104.5,331.2 111.8,330.5 119.2,337.5 126.8,345.0 133.2,348.0 140.8,350.8 148.0,351.2 155.8,342.5 163.2,330.0 170.8,324.5 178.0,324.2 184.5,322.5 192.0,327.5 199.5,331.2 206.8,332.5 214.2,333.2 221.8,336.2 229.2,342.5 235.5,341.2 240.0,336.2 243.0,331.2 250.5,318.8 258.0,312.5 265.8,304.2 273.0,304.5 279.2,303.8 286.8,304.2 294.2,304.5 301.8,306.2 309.2,312.5 316.8,326.2 324.2,335.0 330.8,338.0 338.2,333.8 345.5,322.5 353.0,313.8 360.5,305.0 368.0,298.8 375.5,292.5 383.0,288.8 389.5,287.5 396.8,285.8 404.2,292.5 411.8,299.5 419.2,305.0 426.8,317.5 433.0,327.5 440.5,337.5 448.0,346.2 455.5,350.0 463.0,351.2 470.5,357.5 477.0,363.8 484.2,376.2 491.8,385.5 499.2,383.8 506.8,377.5 514.2,370.5 522.0,372.5 528.2,373.8 535.5,375.0 543.0,376.2 550.5,372.5 558.0,373.8 565.5,375.0 573.0,375.5 579.2,388.8 586.2,400.0 594.1,406.2 602.1,416.2 609.4,424.4 611.2,432.5 613.1,443.8 615.0,453.8 616.9,462.5 620.0,471.2 623.8,481.2 627.5,485.6 630.6,487.5 635.0,490.0 638.4,491.9" fill="none" stroke="#4a92c8" stroke-width="1.4" stroke-linejoin="round"/><polyline points="0.0,352.0 9.5,345.0 16.8,341.2 24.2,339.5 31.8,341.2 38.2,340.0 45.5,310.0 53.0,297.5 60.5,299.5 68.2,297.0 75.8,284.2 81.8,306.2 89.5,337.5 97.0,351.2 104.5,363.8 111.8,375.0 119.2,365.0 126.8,347.5 133.2,335.0 140.8,335.0 148.0,330.0 155.8,319.5 163.2,313.8 170.8,310.0 178.0,305.8 184.5,312.5 192.0,333.8 199.5,343.8 206.8,351.2 214.2,358.8 221.8,354.5 229.2,347.5 235.5,343.8 240.0,325.0 243.1,306.2 250.6,282.5 258.1,268.8 265.9,261.2 273.1,266.9 280.0,295.0 286.8,325.0 294.2,341.2 301.8,352.0 309.2,355.0 316.8,351.2 324.2,341.2 330.8,327.5 338.2,307.5 345.5,288.8 353.0,276.2 360.5,268.0 368.0,267.5 375.5,275.0 383.0,290.0 389.5,298.0 396.8,305.0 404.2,315.0 411.8,326.2 419.2,322.5 426.8,337.5 433.0,351.2 440.5,362.5 448.0,367.5 455.5,376.2 463.0,366.2 470.5,363.8 477.0,366.2 484.2,378.8 491.8,392.5 499.2,401.2 506.8,392.5 510.0,382.5 514.2,372.5 522.0,361.2 528.2,351.2 535.5,349.2 540.0,355.0 543.0,361.2 550.5,373.0 558.0,382.5 565.5,398.2 572.5,400.0 576.2,410.0 579.4,417.5 586.6,428.1 591.2,431.9 596.2,432.8 602.1,434.4 606.2,441.2 609.4,448.1 611.2,461.2 613.1,481.2 615.0,500.0 616.9,512.5 620.0,523.8 623.8,534.4 627.5,540.0 630.6,543.8 635.0,546.9 638.4,548.8" fill="none" stroke="#f01a26" stroke-width="1.4" stroke-linejoin="round"/><rect x="897.4" y="161" width="1.4" height="964" fill="#a8a8a8"/><rect x="0" y="1123.4" width="898.8" height="1.3" fill="#8e8e8e"/><rect x="85.4" y="1124" width="1.3" height="5" fill="#999"/><text x="86" y="1149.6" font-size="13.5" fill="#444" text-anchor="middle">2/1</text><rect x="177.4" y="1124" width="1.3" height="5" fill="#999"/><text x="178" y="1149.6" font-size="13.5" fill="#666" text-anchor="middle">03:00</text><rect x="276.4" y="1124" width="1.3" height="5" fill="#999"/><text x="277" y="1149.6" font-size="13.5" fill="#444" text-anchor="middle">2/2</text><rect x="366.4" y="1124" width="1.3" height="5" fill="#999"/><text x="367" y="1149.6" font-size="13.5" fill="#666" text-anchor="middle">03:00</text><rect x="466.4" y="1124" width="1.3" height="5" fill="#999"/><text x="467" y="1149.6" font-size="13.5" fill="#444" text-anchor="middle">2/3</text><rect x="612.4" y="1124" width="1.3" height="5" fill="#999"/><text x="613" y="1149.6" font-size="13.5" fill="#444" text-anchor="middle">2/5</text><linearGradient id="ls" x1="0" x2="1" y1="0" y2="0"><stop offset="0" stop-color="#000" stop-opacity="0.30"/><stop offset="0.4" stop-color="#000" stop-opacity="0.10"/><stop offset="1" stop-color="#000" stop-opacity="0"/></linearGradient><rect x="0" y="161" width="5" height="1000" fill="url(#ls)"/><rect x="896" y="231.9" width="46" height="20.6" rx="3" fill="#000"/><text x="905" y="246.9" font-size="13.5" fill="#fff">67.81</text><rect x="896" y="422.8" width="46" height="20.6" rx="3" fill="#000"/><text x="905" y="437.8" font-size="13.5" fill="#fff">66.57</text><rect x="896" y="461.3" width="46" height="20.6" rx="3" fill="#5aaedb"/><text x="905" y="476.3" font-size="13.5" fill="#fff">66.32</text><rect x="896" y="481.3" width="46" height="20.6" rx="3" fill="#2f7fbf"/><text x="905" y="496.3" font-size="13.5" fill="#fff">66.19</text><rect x="896" y="538.3" width="46" height="20.6" rx="3" fill="#f50c10"/><text x="905" y="553.3" font-size="13.5" fill="#3a0000">65.82</text><rect x="896" y="613.8" width="46" height="20.6" rx="3" fill="#000"/><text x="905" y="628.8" font-size="13.5" fill="#fff">65.33</text></svg></div><div class="abs" style="left:0;top:100px;width:4px;height:61px;background:linear-gradient(to right,rgba(0,0,0,0.22),rgba(0,0,0,0.06) 45%,rgba(0,0,0,0))"></div><div class="zb" style="left:411px;top:1040px;width:111px"><div class="abs" style="left:55.5px;top:0;width:1px;height:37.5px;background:rgba(0,0,0,0.07)"></div><svg width="111" height="38" viewBox="0 0 111 38"><path d="M19.5 17.2 H36" stroke="#6aaad6" stroke-width="3.7"/><path d="M74.6 17.2 H91 M82.8 9 V25.4" stroke="#6aaad6" stroke-width="3.7"/></svg></div><div class="zb" style="left:535px;top:1040px;width:55px"><svg width="55" height="38" viewBox="0 0 55 38"><path d="M33 12 L18.8 20 L33 27.6" fill="none" stroke="#4d9bd3" stroke-width="2.4"/><circle cx="33" cy="12" r="3.7" fill="#4d9bd3"/><circle cx="18.8" cy="20" r="3.7" fill="#4d9bd3"/><circle cx="33" cy="27.6" r="3.7" fill="#4d9bd3"/></svg></div><div id="foot" class="abs"><svg class="abs" style="left:0;top:0" width="960" height="44" viewBox="0 0 960 44"><g fill="none" stroke="#ebebeb" stroke-width="1.5"><path d="M368 1 L377 23 L392 1"/><path d="M740 1 L749 27 L764 1"/><path d="M2 36 L8 4"/></g></svg><span>顯示銷售價格。價格資訊僅供參考。</span></div></div></body></html>
